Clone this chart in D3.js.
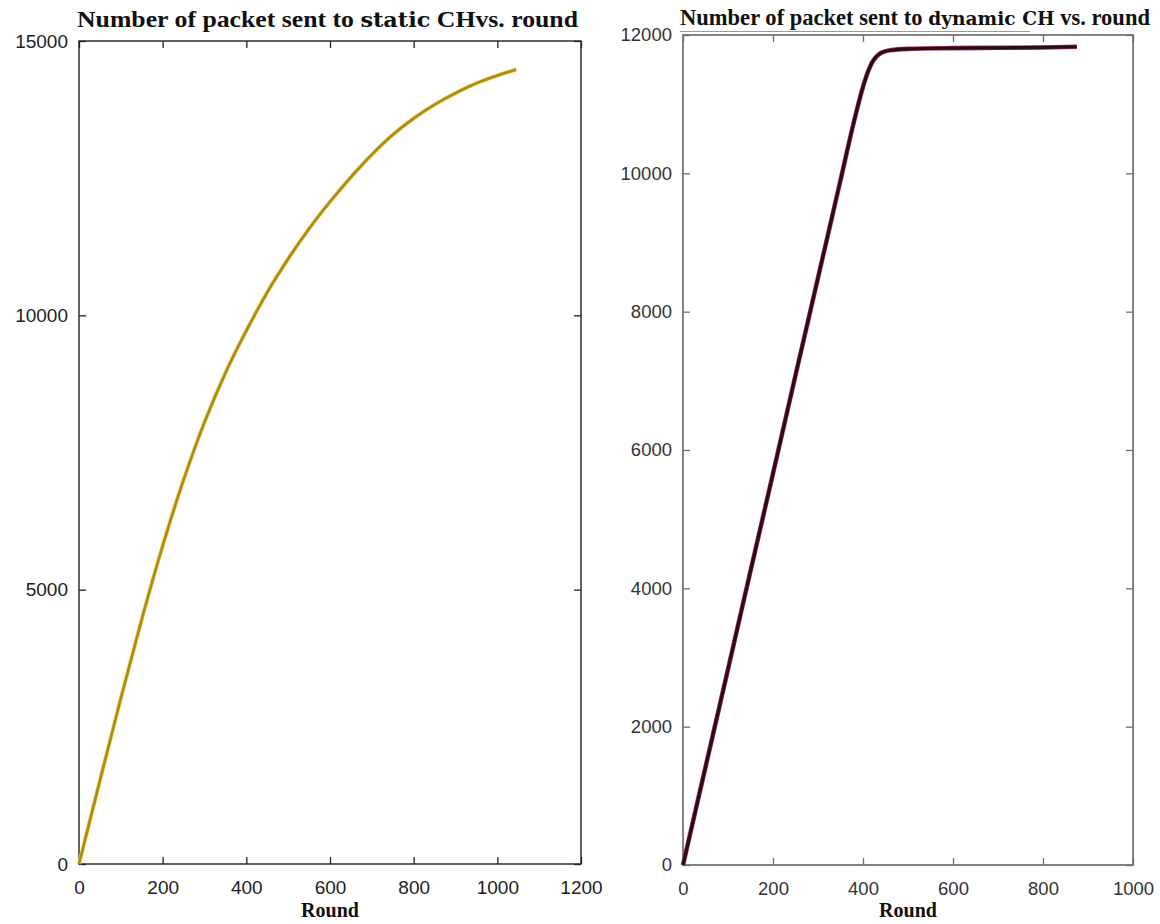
<!DOCTYPE html>
<html>
<head>
<meta charset="utf-8">
<script src="https://cdn.jsdelivr.net/npm/d3@7"></script>
<style>
  body { margin: 0; background: #fff; }
  svg { display: block; }
</style>
</head>
<body>
<svg id="chart" width="1160" height="924"></svg>
<script>
// Static CH: packets sent vs. round
const staticRounds = [0, 50, 100, 150, 200, 250, 300, 350, 400, 450, 500, 550, 600, 650, 700, 750, 800, 850, 900, 950, 1000, 1045];
const staticPackets = [0, 1520, 3020, 4460, 5800, 7000, 8050, 8950, 9720, 10420, 11030, 11580, 12070, 12520, 12930, 13290, 13590, 13840, 14050, 14230, 14370, 14480];

// Dynamic CH: packets sent vs. round
const dynamicRounds = [0, 50, 100, 150, 200, 250, 300, 350, 380, 400, 410, 420, 430, 440, 460, 500, 600, 700, 800, 875];
const dynamicPackets = [0, 1415, 2830, 4250, 5660, 7080, 8490, 9900, 10750, 11250, 11450, 11600, 11690, 11740, 11780, 11800, 11810, 11815, 11820, 11830];

const staticXTicks = [0, 200, 400, 600, 800, 1000, 1200];
const staticYTicks = [0, 5000, 10000, 15000];
const dynamicXTicks = [0, 200, 400, 600, 800, 1000];
const dynamicYTicks = [0, 2000, 4000, 6000, 8000, 10000, 12000];

const svg = d3.select("#chart");

function drawPanel(opts) {
    const g = svg.append("g");

    const x = d3.scaleLinear().domain(opts.xDomain).range([opts.left, opts.right]);
    const y = d3.scaleLinear().domain(opts.yDomain).range([opts.bottom, opts.top]);

    /* ---- axes (ticks pointing inward, like MATLAB) ---- */
    const bottomAxis = g.append("g")
        .attr("transform", `translate(0,${opts.bottom})`)
        .call(d3.axisBottom(x).tickValues(opts.xTicks).tickSize(-7).tickPadding(17).tickFormat(d3.format("d")));
    const topAxis = g.append("g")
        .attr("transform", `translate(0,${opts.top})`)
        .call(d3.axisTop(x).tickValues(opts.xTicks).tickSize(-7).tickFormat(""));
    const leftAxis = g.append("g")
        .attr("transform", `translate(${opts.left},0)`)
        .call(d3.axisLeft(y).tickValues(opts.yTicks).tickSize(-7).tickPadding(11).tickFormat(d3.format("d")));
    const rightAxis = g.append("g")
        .attr("transform", `translate(${opts.right},0)`)
        .call(d3.axisRight(y).tickValues(opts.yTicks).tickSize(-7).tickFormat(""));

    [bottomAxis, topAxis, leftAxis, rightAxis].forEach(a => {
        a.select(".domain").remove();
        a.selectAll(".tick line").attr("stroke", opts.axisColor).attr("stroke-width", 1.3);
        a.selectAll(".tick text")
            .attr("fill", opts.labelColor)
            .style("font-family", "'Liberation Sans', Arial, sans-serif")
            .style("font-size", opts.tickFont);
    });
    bottomAxis.selectAll(".tick text").attr("dy", "0.71em");

    g.append("rect")
        .attr("x", opts.left)
        .attr("y", opts.top)
        .attr("width", opts.right - opts.left)
        .attr("height", opts.bottom - opts.top)
        .attr("fill", "none")
        .attr("stroke", opts.axisColor)
        .attr("stroke-width", opts.frameWidth);

    /* ---- curve ---- */
    const pts = opts.xs.map((r, i) => [r, opts.ys[i]]);
    const line = d3.line()
        .x(d => x(d[0]))
        .y(d => y(d[1]))
        .curve(d3.curveMonotoneX);

    g.append("path")
        .datum(pts)
        .attr("d", line)
        .attr("fill", "none")
        .attr("stroke", opts.edgeColor)
        .attr("stroke-width", opts.lineWidth + 1.4)
        .attr("stroke-linejoin", "round");
    g.append("path")
        .datum(pts)
        .attr("d", line)
        .attr("fill", "none")
        .attr("stroke", opts.lineColor)
        .attr("stroke-width", opts.lineWidth)
        .attr("stroke-linejoin", "round");

    /* ---- title ---- */
    const title = g.append("text")
        .attr("x", opts.titleX)
        .attr("y", opts.titleY)
        .attr("fill", "#111")
        .attr("textLength", opts.titleWidth)
        .attr("lengthAdjust", "spacingAndGlyphs")
        .style("font-family", "'Liberation Serif', 'DejaVu Serif', serif")
        .style("font-weight", "bold")
        .style("font-size", "23px");
    opts.titleParts.forEach(p => {
        title.append("tspan")
            .text(p.text)
            .style("font-size", p.size || "23px")
            .style("font-family", p.family || null);
    });

    g.append("text")
        .attr("x", (opts.left + opts.right) / 2)
        .attr("y", 917)
        .attr("text-anchor", "middle")
        .attr("fill", "#111")
        .style("font-family", "'Liberation Serif', 'DejaVu Serif', serif")
        .style("font-weight", "bold")
        .style("font-size", "20px")
        .text("Round");

    return g;
}

drawPanel({
    xs: staticRounds, ys: staticPackets,
    xDomain: [0, 1200], yDomain: [0, 15000],
    xTicks: staticXTicks, yTicks: staticYTicks,
    left: 79, right: 581, top: 41, bottom: 864,
    axisColor: "#222", labelColor: "#222", frameWidth: 1.4, tickFont: "19px",
    lineColor: "#b08c0c", edgeColor: "#e4cc6a", lineWidth: 2.6,
    titleX: 77, titleY: 27, titleWidth: 501,
    titleParts: [
        { text: "Number of packet sent to " },
        { text: "static", size: "20px", family: "'DejaVu Serif', serif" },
        { text: " CHvs. round" }
    ]
});

const right = drawPanel({
    xs: dynamicRounds, ys: dynamicPackets,
    xDomain: [0, 1000], yDomain: [0, 12000],
    xTicks: dynamicXTicks, yTicks: dynamicYTicks,
    left: 683, right: 1133, top: 35, bottom: 865,
    axisColor: "#6e6e6e", labelColor: "#333", frameWidth: 1.7, tickFont: "18.5px",
    lineColor: "#2a0c16", edgeColor: "#9a3848", lineWidth: 3.2,
    titleX: 680, titleY: 25, titleWidth: 470,
    titleParts: [
        { text: "Number of packet sent to " },
        { text: "dynamic CH", size: "19px", family: "'DejaVu Serif', serif" },
        { text: " vs. round" }
    ]
});

// faint scan artefact: doubled frame line under the right-hand title
right.append("line")
    .attr("x1", 680).attr("x2", 1030)
    .attr("y1", 31.5).attr("y2", 31.5)
    .attr("stroke", "#9a9a9a")
    .attr("stroke-width", 1.2);
</script>
</body>
</html>
